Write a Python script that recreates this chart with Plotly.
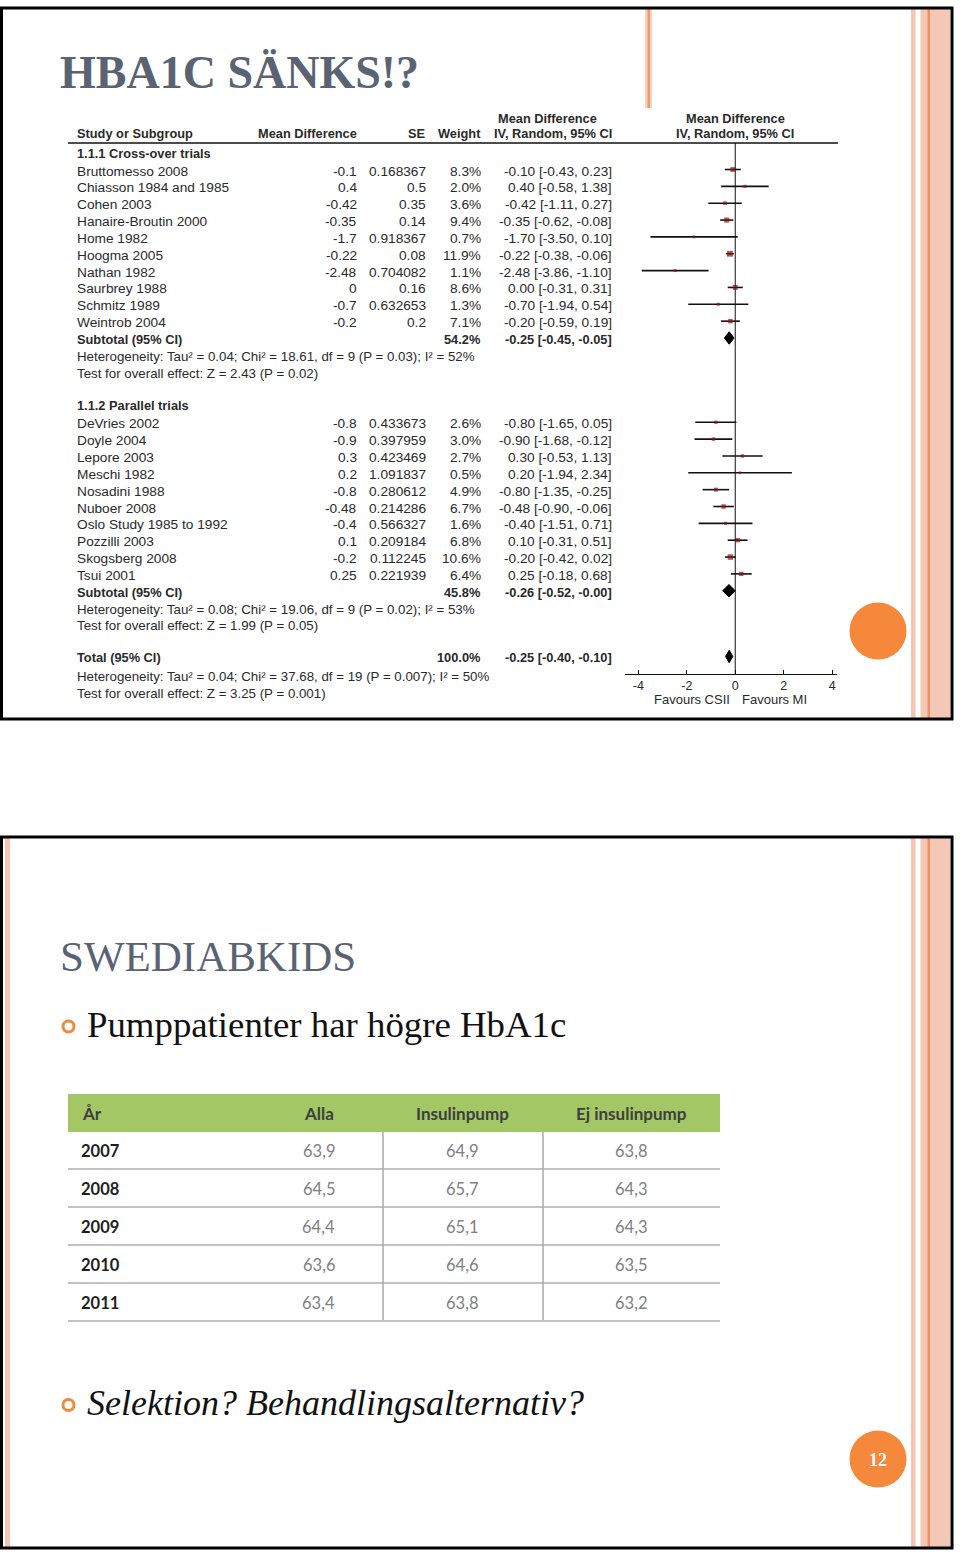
import plotly.graph_objects as go

W, H = 960, 1555

# ---------------- forest plot data ----------------
cross_studies = ["Bruttomesso 2008", "Chiasson 1984 and 1985", "Cohen 2003", "Hanaire-Broutin 2000",
                 "Home 1982", "Hoogma 2005", "Nathan 1982", "Saurbrey 1988", "Schmitz 1989", "Weintrob 2004"]
cross_md = [-0.1, 0.4, -0.42, -0.35, -1.7, -0.22, -2.48, 0, -0.7, -0.2]
cross_se = ["0.168367", "0.5", "0.35", "0.14", "0.918367", "0.08", "0.704082", "0.16", "0.632653", "0.2"]
cross_w = [8.3, 2.0, 3.6, 9.4, 0.7, 11.9, 1.1, 8.6, 1.3, 7.1]
cross_lo = [-0.43, -0.58, -1.11, -0.62, -3.50, -0.38, -3.86, -0.31, -1.94, -0.59]
cross_hi = [0.23, 1.38, 0.27, -0.08, 0.10, -0.06, -1.10, 0.31, 0.54, 0.19]

par_studies = ["DeVries 2002", "Doyle 2004", "Lepore 2003", "Meschi 1982", "Nosadini 1988", "Nuboer 2008",
               "Oslo Study 1985 to 1992", "Pozzilli 2003", "Skogsberg 2008", "Tsui 2001"]
par_md = [-0.8, -0.9, 0.3, 0.2, -0.8, -0.48, -0.4, 0.1, -0.2, 0.25]
par_se = ["0.433673", "0.397959", "0.423469", "1.091837", "0.280612", "0.214286", "0.566327", "0.209184",
          "0.112245", "0.221939"]
par_w = [2.6, 3.0, 2.7, 0.5, 4.9, 6.7, 1.6, 6.8, 10.6, 6.4]
par_lo = [-1.65, -1.68, -0.53, -1.94, -1.35, -0.90, -1.51, -0.31, -0.42, -0.18]
par_hi = [0.05, -0.12, 1.13, 2.34, -0.25, -0.06, 0.71, 0.51, 0.02, 0.68]

sum_labels = ["Subtotal (95% CI)", "Subtotal (95% CI)", "Total (95% CI)"]
sum_w = [54.2, 45.8, 100.0]
sum_md = [-0.25, -0.26, -0.25]
sum_lo = [-0.45, -0.52, -0.40]
sum_hi = [-0.05, -0.00, -0.10]
sum_hi_text = ["-0.05", "-0.00", "-0.10"]

het_texts = ["Heterogeneity: Tau² = 0.04; Chi² = 18.61, df = 9 (P = 0.03); I² = 52%",
             "Heterogeneity: Tau² = 0.08; Chi² = 19.06, df = 9 (P = 0.02); I² = 53%",
             "Heterogeneity: Tau² = 0.04; Chi² = 37.68, df = 19 (P = 0.007); I² = 50%"]
test_texts = ["Test for overall effect: Z = 2.43 (P = 0.02)",
              "Test for overall effect: Z = 1.99 (P = 0.05)",
              "Test for overall effect: Z = 3.25 (P = 0.001)"]
group_titles = ["1.1.1 Cross-over trials", "1.1.2 Parallel trials"]
axis_ticks = [-4, -2, 0, 2, 4]
favours = ["Favours CSII", "Favours MI"]

# ---------------- SWEDIABKIDS table data ----------------
tab_headers = ["År", "Alla", "Insulinpump", "Ej insulinpump"]
years = ["2007", "2008", "2009", "2010", "2011"]
alla = [63.9, 64.5, 64.4, 63.6, 63.4]
pump = [64.9, 65.7, 65.1, 64.6, 63.8]
nopump = [63.8, 64.3, 64.3, 63.5, 63.2]

# ---------------- layout helpers ----------------
Y0, STEP = 169.5, 16.85          # pixel of first study row, row pitch


def px(x):
    return x / W


def py(y):
    return 1 - y / H


def slot_of(pix):
    return (pix - Y0) / STEP


cross_slots = list(range(0, 10))
par_slots = list(range(15, 25))
sum_slots = [10, 25, 28.9]
het_slots = [11, 26, 30]
test_slots = [12, 27, 31]
group_slots = [slot_of(152), 13.9]

SANS = "Liberation Sans, Arial, sans-serif"
SERIF = "Liberation Serif, Times New Roman, serif"
TXT = "#2a2a2a"

fig = go.Figure()

# zero line
fig.add_trace(go.Scatter(x=[0, 0], y=[slot_of(143), slot_of(674)], mode="lines",
                         line=dict(color="#111", width=1), hoverinfo="skip"))

# CI lines
ci_x, ci_y = [], []
for lo, hi, s in zip(cross_lo + par_lo, cross_hi + par_hi, cross_slots + par_slots):
    ci_x += [lo, hi, None]
    ci_y += [s, s, None]
fig.add_trace(go.Scatter(x=ci_x, y=ci_y, mode="lines", line=dict(color="#111", width=1.6),
                         hoverinfo="skip"))

# study squares (size by weight)
all_w = cross_w + par_w
fig.add_trace(go.Scatter(x=cross_md + par_md, y=cross_slots + par_slots, mode="markers",
                         marker=dict(symbol="square", color="#8b1010",
                                     size=[2.6 + 0.27 * w for w in all_w], line=dict(width=0))))

# diamonds
for md, lo, hi, s in zip(sum_md, sum_lo, sum_hi, sum_slots):
    h = 0.37
    fig.add_trace(go.Scatter(x=[lo, md, hi, md, lo], y=[s, s - h, s, s + h, s], mode="lines",
                             fill="toself", fillcolor="black", line=dict(color="black", width=1),
                             hoverinfo="skip"))

ann = []


def txt(x, y, text, anchor="left", size=13.7, color=TXT, family=SANS, yref="y", yshift=-1.5):
    ann.append(dict(x=x, y=y, xref="paper", yref=yref, text=text, showarrow=False, xanchor=anchor,
                    yanchor="middle", yshift=yshift, font=dict(size=size, color=color, family=family)))


COL_NAME, COL_MD, COL_SE, COL_W, COL_CI = px(75), px(359), px(428), px(483), px(614)
BS = 12.8  # bold size

# header
txt(px(547), slot_of(118), "<b>Mean Difference</b>", "center", BS, yshift=0)
txt(px(735), slot_of(118), "<b>Mean Difference</b>", "center", BS, yshift=0)
hy = slot_of(133.5)
txt(COL_NAME, hy, "<b>Study or Subgroup</b>", "left", BS, yshift=0)
txt(COL_MD, hy, "<b>Mean Difference</b>", "right", BS, yshift=0)
txt(COL_SE, hy, "<b>SE</b>", "right", BS, yshift=0)
txt(COL_W, hy, "<b>Weight</b>", "right", BS, yshift=0)
txt(COL_CI, hy, "<b>IV, Random, 95% CI</b>", "right", BS, yshift=0)
txt(px(735), hy, "<b>IV, Random, 95% CI</b>", "center", BS, yshift=0)

for g, s in zip(group_titles, group_slots):
    txt(COL_NAME, s, "<b>%s</b>" % g, "left", BS)

for names, mds, ses, ws, los, his, slots in [
        (cross_studies, cross_md, cross_se, cross_w, cross_lo, cross_hi, cross_slots),
        (par_studies, par_md, par_se, par_w, par_lo, par_hi, par_slots)]:
    for n, md, se, w, lo, hi, s in zip(names, mds, ses, ws, los, his, slots):
        txt(COL_NAME, s, n)
        txt(COL_MD, s, "%g" % md, "right")
        txt(COL_SE, s, se, "right")
        txt(COL_W, s, "%.1f%%" % w, "right")
        txt(COL_CI, s, "%.2f [%.2f, %.2f]" % (md, lo, hi), "right")

for lab, w, md, lo, hit, s in zip(sum_labels, sum_w, sum_md, sum_lo, sum_hi_text, sum_slots):
    txt(COL_NAME, s, "<b>%s</b>" % lab, "left", BS)
    txt(COL_W, s, "<b>%.1f%%</b>" % w, "right", BS)
    txt(COL_CI, s, "<b>%.2f [%.2f, %s]</b>" % (md, lo, hit), "right", BS)

for t, s in zip(het_texts, het_slots):
    txt(COL_NAME, s, t, size=13.3)
for t, s in zip(test_texts, test_slots):
    txt(COL_NAME, s, t, size=13.3)

txt(px(692), py(700), favours[0], "center", 13, yref="paper", yshift=0)
txt(px(774), py(700), favours[1], "center", 13, yref="paper", yshift=0)

# slide titles and text
TITLE_C = "#5a6373"
txt(px(58), py(73), "<b>HBA1C SÄNKS!?</b>", "left", 46, TITLE_C, SERIF, "paper", 0)
txt(px(58), py(956), "SWEDIABKIDS", "left", 43, TITLE_C, SERIF, "paper", 0)
txt(px(85), py(1024), "Pumppatienter har högre HbA1c", "left", 36.8, "#111", SERIF, "paper", 0)
txt(px(85), py(1403), "<i>Selektion? Behandlingsalternativ?</i>", "left", 36, "#111", SERIF, "paper", 0)
txt(px(878), py(1460), "<b>12</b>", "center", 18, "white", SERIF, "paper", 0)

# bottom table text
TAB_FONT = "Lato, Open Sans, sans-serif"
head_y = py(1113)
HC = "#3e3e3e"
txt(px(80), head_y, "<b>%s</b>" % tab_headers[0], "left", 17, HC, TAB_FONT, "paper", 0)
txt(px(336), head_y, "<b>%s</b>" % tab_headers[1], "right", 17, HC, TAB_FONT, "paper", 0)
txt(px(462), head_y, "<b>%s</b>" % tab_headers[2], "center", 17, HC, TAB_FONT, "paper", 0)
txt(px(631), head_y, "<b>%s</b>" % tab_headers[3], "center", 17, HC, TAB_FONT, "paper", 0)


def comma(v):
    return ("%.1f" % v).replace(".", ",")


ROW0, RSTEP = 1150.5, 38
for i, (yr, a, p, n) in enumerate(zip(years, alla, pump, nopump)):
    ry = py(ROW0 + RSTEP * i)
    txt(px(79), ry, "<b>%s</b>" % yr, "left", 16.5, "#1e1e1e", TAB_FONT, "paper", 0)
    txt(px(337), ry, comma(a), "right", 16.5, "#808080", TAB_FONT, "paper", 0)
    txt(px(462), ry, comma(p), "center", 16.5, "#808080", TAB_FONT, "paper", 0)
    txt(px(631), ry, comma(n), "center", 16.5, "#808080", TAB_FONT, "paper", 0)

# ---------------- shapes (slide decoration) ----------------
shapes = []


def rect(x0, y0, x1, y1, fill=None, line=None, lw=0, layer="above"):
    shapes.append(dict(type="rect", xref="paper", yref="paper", x0=px(x0), x1=px(x1), y0=py(y1), y1=py(y0),
                       fillcolor=fill if fill else "rgba(0,0,0,0)",
                       line=dict(color=line if line else "rgba(0,0,0,0)", width=lw), layer=layer))


def hline(x0, x1, y, color, lw):
    shapes.append(dict(type="line", xref="paper", yref="paper", x0=px(x0), x1=px(x1), y0=py(y), y1=py(y),
                       line=dict(color=color, width=lw)))


def vline(x, y0, y1, color, lw):
    shapes.append(dict(type="line", xref="paper", yref="paper", x0=px(x), x1=px(x), y0=py(y0), y1=py(y1),
                       line=dict(color=color, width=lw)))


def circle(cx, cy, r, fill=None, line=None, lw=0):
    shapes.append(dict(type="circle", xref="paper", yref="paper", x0=px(cx - r), x1=px(cx + r),
                       y0=py(cy + r), y1=py(cy - r), fillcolor=fill if fill else "rgba(0,0,0,0)",
                       line=dict(color=line if line else "rgba(0,0,0,0)", width=lw)))


for top, bot in [(8, 719), (837, 1548)]:
    rect(911, top, 915.5, bot, "#f6c6b2", layer="below")
    rect(920.5, top, 950, bot, "#f4c8b6", layer="below")
    rect(927.5, top, 930, bot, "#ec9066", layer="below")
rect(5, 837, 10, 1548, "#f6c6b2", layer="below")
# thin orange line top of slide 1
rect(645, 9, 652, 108, "#f7d2c0", layer="below")
rect(647.5, 9, 650, 108, "#ee9a70", layer="below")

# header rule of forest plot
hline(68, 838, 143, "#111", 1.5)

# orange circles
circle(878, 631, 28.5, "#f5883a")
circle(878, 1459, 28.5, "#f5883a")
# bullets
circle(68.5, 1026.5, 5.5, "white", "#f0883e", 3)
circle(68.5, 1405, 5.5, "white", "#f0883e", 3)

# bottom table
rect(68, 1094, 720, 1132, "#a4c766", layer="below")
for i in range(len(years)):
    hline(68, 720, ROW0 + RSTEP * i + 18.5, "#c2c2c2", 2)
vline(383, 1132, 1320, "#a8a8a8", 1.5)
vline(543, 1132, 1320, "#a8a8a8", 1.5)

# slide frames
rect(1.5, 8, 952, 719, None, "black", 3)
rect(1.5, 837, 952, 1548, None, "black", 3)

fig.update_layout(
    width=W, height=H, margin=dict(l=0, r=0, t=0, b=0),
    paper_bgcolor="white", plot_bgcolor="rgba(0,0,0,0)", showlegend=False,
    xaxis=dict(domain=[px(625), px(837)], range=[-4.55, 4.2], anchor="free", position=py(674),
               showline=True, linecolor="#111", linewidth=1, ticks="inside", ticklen=4, tickcolor="#111",
               tickvals=axis_ticks, ticktext=[str(t) for t in axis_ticks], showgrid=False, zeroline=False,
               tickfont=dict(size=12.5, color=TXT, family=SANS), fixedrange=True),
    yaxis=dict(domain=[0, 1], range=[slot_of(H), slot_of(0)], visible=False, fixedrange=True),
    annotations=ann, shapes=shapes,
)

fig.write_html("out.html", config={"displayModeBar": False},
               post_script="document.body.style.margin='0';document.body.style.padding='0';"
                           "document.body.style.overflow='hidden';")
